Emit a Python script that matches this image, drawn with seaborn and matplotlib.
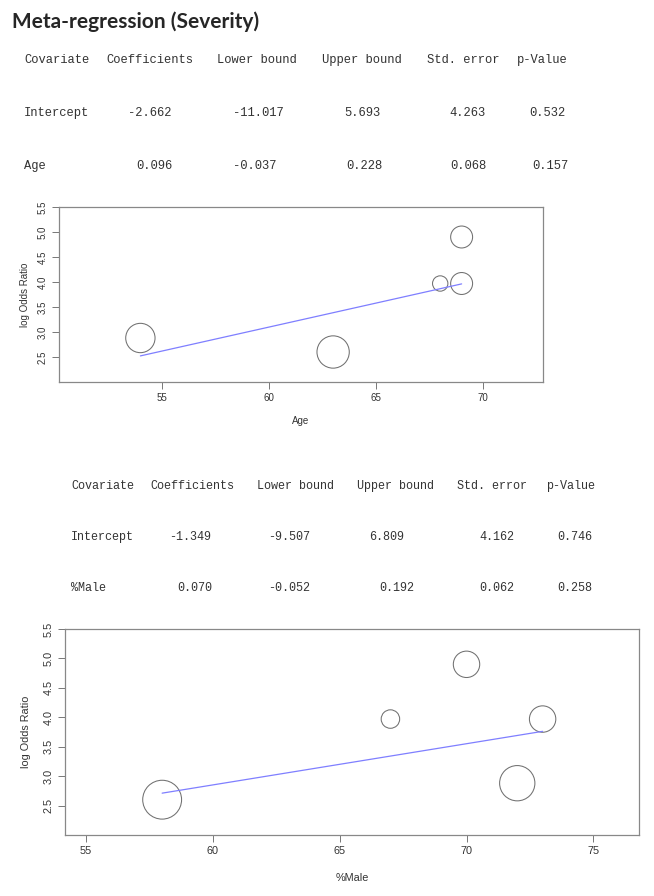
import numpy as np
import pandas as pd
import seaborn as sns
import matplotlib.pyplot as plt

sns.set_theme(style='white')
plt.rcParams['font.family'] = ['Liberation Sans', 'DejaVu Sans']

# study level data (5 studies)
log_or = [2.88, 2.60, 3.97, 3.97, 4.90]
age = [54, 63, 68, 69, 69]
pct_male = [72, 58, 67, 73, 70]
weights = [27.7, 33.6, 7.6, 15.5, 15.5]

# meta-regression output tables
headers = ['Covariate', 'Coefficients', 'Lower bound', 'Upper bound', 'Std. error', 'p-Value']
age_rows = [['Intercept', '-2.662', '-11.017', '5.693', '4.263', '0.532'],
            ['Age', '0.096', '-0.037', '0.228', '0.068', '0.157']]
male_rows = [['Intercept', '-1.349', '-9.507', '6.809', '4.162', '0.746'],
             ['%Male', '0.070', '-0.052', '0.192', '0.062', '0.258']]
age_coef = [-2.662, 0.096]
male_coef = [-1.349, 0.070]

W, H = 654, 896
fig = plt.figure(figsize=(W / 100, H / 100), dpi=100)

fig.text(12 / W, 1 - 28 / H, 'Meta-regression (Severity)', fontsize=15, fontweight='bold',
         family=['Lato', 'DejaVu Sans'], va='baseline', ha='left')


def put_table(rows, xs_head, xs_rows, ys, size):
    for x, t in zip(xs_head, headers):
        fig.text(x / W, 1 - ys[0] / H, t, family='Liberation Mono', fontsize=size,
                 va='center', ha='left', color='#333333')
    for row, xs, y in zip(rows, xs_rows, ys[1:]):
        for x, t in zip(xs, row):
            fig.text(x / W, 1 - y / H, t, family='Liberation Mono', fontsize=size,
                     va='center', ha='left', color='#333333')


put_table(age_rows,
          [24, 106, 217, 322, 427, 517],
          [[24, 128, 233, 344, 449, 529], [24, 136, 233, 346, 450, 532]],
          [60, 113, 166], 8.7)
put_table(male_rows,
          [71, 150, 257, 357, 457, 546],
          [[71, 169, 268, 369, 479, 557], [71, 177, 268, 379, 479, 557]],
          [486, 537, 588], 8.5)


def bubble_panel(rect, x, coef, xlim, xticks, xlabel, k, fs, xpad, ypad):
    ax = fig.add_axes(rect)
    df = pd.DataFrame({'x': x, 'y': log_or, 'w': weights})
    sns.scatterplot(data=df, x='x', y='y', size='w', sizes=(0, k * max(weights)),
                    size_norm=(0, max(weights)), facecolor='none', edgecolor='#707070',
                    linewidth=0.75, legend=False, ax=ax)
    xs = np.array([min(x), max(x)])
    sns.lineplot(x=xs, y=coef[0] + coef[1] * xs, color='#7f7fff', linewidth=0.9, ax=ax)
    ax.set_xlim(*xlim)
    ax.set_ylim(2.0, 5.5)
    ax.set_xticks(xticks)
    ax.set_yticks(np.arange(2.5, 5.51, 0.5))
    ax.set_yticklabels([f'{v:.1f}' for v in np.arange(2.5, 5.51, 0.5)], rotation=90, va='center')
    ax.tick_params(axis='both', which='major', length=5, width=0.7, color='#777777',
                   labelsize=fs, labelcolor='#333333', pad=3, bottom=True, left=True)
    ax.set_xlabel(xlabel, fontsize=fs, color='#333333', labelpad=xpad)
    ax.set_ylabel('log Odds Ratio', fontsize=fs, color='#333333', labelpad=ypad)
    for s in ax.spines.values():
        s.set_color('#888888')
        s.set_linewidth(0.9)
    return ax


bubble_panel([59 / W, 1 - 382 / H, (543 - 59) / W, (382 - 207) / H], age, age_coef,
             (50.2, 72.8), [55, 60, 65, 70], 'Age', 16.1, 7, 9, 6)
bubble_panel([65 / W, 1 - 835 / H, (639 - 65) / W, (835 - 629) / H], pct_male, male_coef,
             (54.17, 76.8), [55, 60, 65, 70, 75], '%Male', 23.3, 7.8, 12, 9)

fig.savefig('out.png', dpi=100)
